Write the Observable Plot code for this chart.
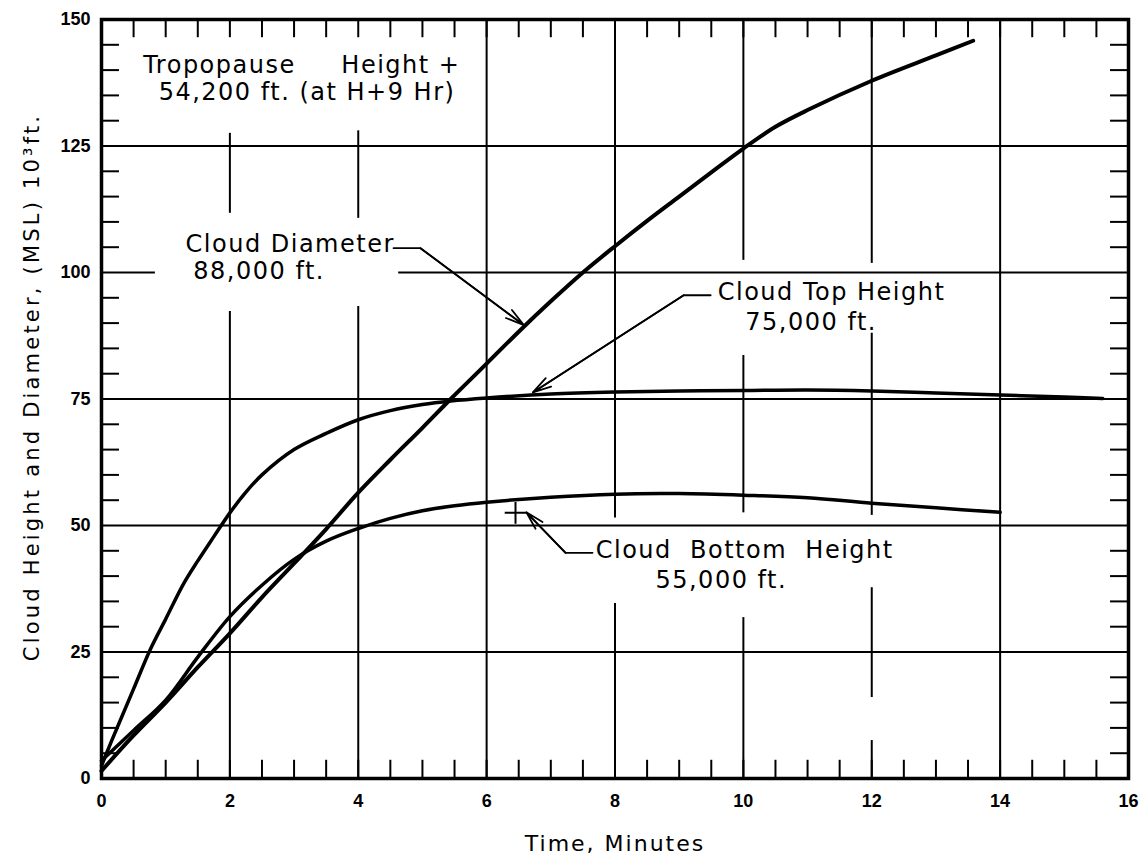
<!DOCTYPE html>
<html><head><meta charset="utf-8">
<script src="https://cdn.jsdelivr.net/npm/d3@7"></script>
<script src="https://cdn.jsdelivr.net/npm/@observablehq/plot@0.6"></script>
<style>body{margin:0;background:#fff}</style>
</head><body><div id="chart"></div>
<script>
// ---- axes ----
const xTicks = [0, 2, 4, 6, 8, 10, 12, 14, 16];
const yTicks = [0, 25, 50, 75, 100, 125, 150];
const minorX = [0.5, 1, 1.5, 2, 2.5, 3, 3.5, 4, 4.5, 5, 5.5, 6, 6.5, 7, 7.5, 8, 8.5, 9, 9.5, 10, 10.5, 11, 11.5, 12, 12.5, 13, 13.5, 14, 14.5, 15, 15.5];
const minorY = [5, 10, 15, 20, 30, 35, 40, 45, 55, 60, 65, 70, 80, 85, 90, 95, 105, 110, 115, 120, 130, 135, 140, 145];

// ---- grid segments (as drawn, interrupted around labels) ----
const gridVX  = [2, 2, 4, 4, 6, 8, 8, 10, 10, 10, 12, 12, 12, 12, 14];
const gridVY1 = [0, 111.7, 0, 110.7, 0, 0, 51.5, 0, 52.5, 102.4, 0, 16, 52, 101.8, 0];
const gridVY2 = [92.3, 127.5, 93.3, 128, 150, 34.6, 150, 31.8, 83.6, 150, 7.5, 37.7, 88, 150, 150];
const gridHY  = [25, 50, 75, 100, 100, 125];
const gridHX1 = [0, 0, 0, 0, 4.63, 0];
const gridHX2 = [16, 16, 16, 0.84, 16, 16];

// ---- series (time in minutes, height/diameter in 10^3 ft) ----
const diamX = [0, 0.5, 1, 1.5, 2, 2.5, 3, 3.5, 4, 4.5, 5, 5.44, 6, 6.5, 7, 7.5, 8, 8.5, 9, 9.5, 10, 10.5, 11, 12, 13, 13.58];
const diamY = [1.5, 8.5, 15, 22, 28.7, 35.8, 42.5, 49.3, 56.5, 63, 69.3, 75, 82, 88.3, 94.3, 100, 105.2, 110.2, 115, 119.8, 124.5, 128.8, 132.1, 137.9, 142.9, 145.8];

const topX = [0, 0.14, 0.3, 0.5, 0.76, 1, 1.28, 1.5, 1.75, 2, 2.25, 2.5, 3, 3.5, 4, 4.5, 5, 5.44, 6, 7, 8, 9, 10, 11, 12, 13, 14, 15, 15.6];
const topY = [2.5, 6.9, 11.7, 17.7, 25.5, 31.5, 38.5, 43, 47.8, 52.5, 56.6, 60, 65, 68.2, 70.9, 72.7, 73.9, 74.6, 75.2, 76, 76.4, 76.6, 76.7, 76.8, 76.6, 76.2, 75.8, 75.4, 75.1];

const botX = [0, 0.5, 1, 1.5, 2, 2.5, 3, 3.5, 4, 4.5, 5, 5.5, 6, 7, 8, 9, 10, 11, 12, 13, 14];
const botY = [3.5, 9.5, 15.5, 24, 32, 38.2, 43.3, 46.9, 49.4, 51.4, 52.9, 53.9, 54.6, 55.6, 56.2, 56.3, 56, 55.5, 54.4, 53.5, 52.6];

// ---- annotations ----
const noteText = ["Tropopause\u00a0\u00a0\u00a0\u00a0\u00a0Height\u00a0+", "54,200 ft. (at H+9 Hr)", "Cloud Diameter", "88,000 ft.", "Cloud Top Height", "75,000 ft.", "Cloud\u00a0\u00a0Bottom\u00a0\u00a0Height", "55,000 ft."];
const noteX = [0.65, 0.89, 1.31, 1.43, 9.6, 10.03, 7.7, 8.63];
const noteY = [141.0, 135.6, 105.5, 100.2, 96.1, 90.2, 45.1, 39.1];

// leader lines: polyline points, last segment carries the arrowhead
const leadDiamX = [4.55, 4.97, 6.58];
const leadDiamY = [104.8, 104.8, 89.6];
const leadTopX = [9.49, 9.07, 6.72];
const leadTopY = [95.5, 95.5, 76.3];
const leadBotX = [7.65, 7.23, 6.62];
const leadBotY = [44.6, 44.6, 52.6];

const plusX = [6.45];
const plusY = [52.5];

const xTitle = "Time, Minutes";
const yTitle = "Cloud Height and Diameter, (MSL) 10\u00b3ft.";

// ---- build tables ----
const pts = (xs, ys) => xs.map((x, i) => ({x, y: ys[i]}));
const gridV = gridVX.map((x, i) => ({x, y1: gridVY1[i], y2: gridVY2[i]}));
const gridH = gridHY.map((y, i) => ({y, x1: gridHX1[i], x2: gridHX2[i]}));
const notes = noteText.map((t, i) => ({t, x: noteX[i], y: noteY[i]}));
const leaders = [[leadDiamX, leadDiamY], [leadTopX, leadTopY], [leadBotX, leadBotY]];
const leaderLines = leaders.flatMap(([xs, ys], k) => xs.map((x, i) => ({k, x, y: ys[i]})));
const leaderHeads = leaders.map(([xs, ys]) => ({x1: xs[xs.length - 2], y1: ys[ys.length - 2], x2: xs[xs.length - 1], y2: ys[ys.length - 1]}));

const FONT = "DejaVu Sans";
const tickLenY = 3.6;   // in y units (~18px)
const tickLenX = 0.28;  // in x units (~18px)

const chart = Plot.plot({
  width: 1145,
  height: 867,
  marginLeft: 101,
  marginRight: 17,
  marginTop: 19,
  marginBottom: 89,
  x: {domain: [0, 16]},
  y: {domain: [0, 150]},
  style: {background: "white", color: "black", fontFamily: FONT},
  marks: [
    // grid
    Plot.ruleX(gridV, {x: "x", y1: "y1", y2: "y2", stroke: "black", strokeWidth: 2}),
    Plot.ruleY(gridH, {y: "y", x1: "x1", x2: "x2", stroke: "black", strokeWidth: 2}),
    // minor inward ticks
    Plot.ruleX(minorX, {y1: 0, y2: tickLenY, stroke: "black", strokeWidth: 2}),
    Plot.ruleX(minorX, {y1: 150 - tickLenY, y2: 150, stroke: "black", strokeWidth: 2}),
    Plot.ruleY(minorY, {x1: 0, x2: tickLenX, stroke: "black", strokeWidth: 2}),
    Plot.ruleY(minorY, {x1: 16 - tickLenX, x2: 16, stroke: "black", strokeWidth: 2}),
    // curves
    Plot.line(pts(diamX, diamY), {x: "x", y: "y", curve: "catmull-rom", stroke: "black", strokeWidth: 4}),
    Plot.line(pts(topX, topY), {x: "x", y: "y", curve: "catmull-rom", stroke: "black", strokeWidth: 3.5}),
    Plot.line(pts(botX, botY), {x: "x", y: "y", curve: "catmull-rom", stroke: "black", strokeWidth: 3.5}),
    // leaders
    Plot.line(leaderLines, {x: "x", y: "y", z: "k", stroke: "black", strokeWidth: 1.8}),
    Plot.arrow(leaderHeads, {x1: "x1", y1: "y1", x2: "x2", y2: "y2", stroke: "black", strokeWidth: 1.8, headLength: 16, headAngle: 30}),
    Plot.dot(pts(plusX, plusY), {x: "x", y: "y", symbol: "plus", r: 7, stroke: "black", strokeWidth: 2}),
    // annotations
    Plot.text(notes, {x: "x", y: "y", text: "t", textAnchor: "start", lineAnchor: "middle", fontSize: 24, fontFamily: FONT, fill: "black"}),
    // axes
    Plot.axisX(xTicks, {tickSize: 0, tickPadding: 16, fontSize: 18, fontWeight: "bold", fontFamily: "Liberation Sans", label: null}),
    Plot.axisY(yTicks, {tickSize: 0, tickPadding: 11, fontSize: 18, fontWeight: "bold", fontFamily: "Liberation Sans", label: null}),
    Plot.text([xTitle], {frameAnchor: "bottom", dy: 65, textAnchor: "middle", lineAnchor: "middle", fontSize: 22, fontFamily: FONT}),
    Plot.text([yTitle], {frameAnchor: "left", dx: -69, dy: -12, rotate: -90, textAnchor: "middle", lineAnchor: "middle", fontSize: 21, fontFamily: FONT}),
    Plot.frame({stroke: "black", strokeWidth: 3.5})
  ]
});
document.getElementById("chart").appendChild(chart);

// hand-lettered look: widen letter spacing of the annotation and title texts
const sel = d3.select(chart).selectAll("text");
sel.filter(function() { return noteText.includes(this.textContent); }).attr("letter-spacing", "1.5px");
sel.filter(function() { return this.textContent === xTitle; }).attr("letter-spacing", "2px");
sel.filter(function() { return this.textContent === yTitle; }).attr("letter-spacing", "3.2px");
</script>
</body></html>
